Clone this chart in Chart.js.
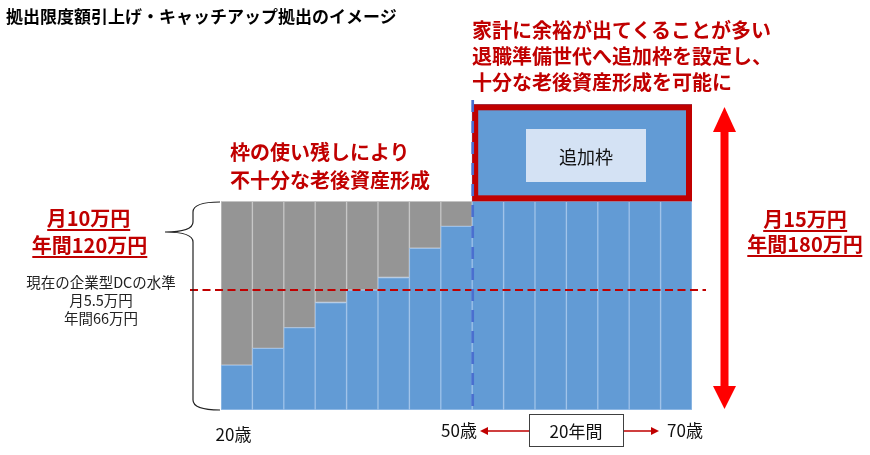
<!DOCTYPE html>
<html>
<head>
<meta charset="utf-8">
<script src="https://cdn.jsdelivr.net/npm/chart.js@4.4.1/dist/chart.umd.min.js"></script>
<style>
body{margin:0;background:#fff;}
#wrap{position:relative;width:870px;height:455px;font-family:"Noto Sans CJK JP","Noto Sans",sans-serif;overflow:hidden;}
canvas{position:absolute;left:0;top:0;}
.t{position:absolute;white-space:nowrap;line-height:1;}
.c{transform:translateX(-50%);}
.red{color:#c00000;font-weight:bold;font-size:20px;}
.ul{border-bottom:2px solid #c00000;padding-bottom:1px;}
.small{font-size:14.5px;color:#222;}
.age{font-size:17px;color:#111;}
#addBox{position:absolute;left:526px;top:129px;width:120px;height:53px;background:#d4e2f4;}
#yearBox{position:absolute;left:529px;top:414px;width:93px;height:31px;border:1px solid #404040;background:#fff;}
</style>
</head>
<body>
<div id="wrap">
  <canvas id="myChart" width="870" height="455"></canvas>
  <div id="addBox"></div>
  <div id="yearBox"></div>
  <div id="texts"></div>
</div>
<script>
// データ（月額・万円）
const categories = ["1","2","3","4","5","6","7","8","9","10","11","12","13","14","15"]
const contribution = [2.15, 2.95, 3.95, 5.15, 5.75, 6.35, 7.75, 8.8, 10, 10, 10, 10, 10, 10, 10]
const unused = [7.85, 7.05, 6.05, 4.85, 4.25, 3.65, 2.25, 1.2, null, null, null, null, null, null, null]
const extra = [null, null, null, null, null, null, null, null, 4.65, 4.65, 4.65, 4.65, 4.65, 4.65, 4.65]
const currentLevel = 5.75
const ageTicks = ["20歳", "50歳", "70歳"]

// テキスト
const texts = [
  {s: "拠出限度額引上げ・キャッチアップ拠出のイメージ", x: 6, y: 16.7, size: 17, cls: "", style: "font-weight:bold;font-size:17px;color:#000;"},
  {s: "家計に余裕が出てくることが多い", x: 472, y: 31.5, size: 20, cls: "red"},
  {s: "退職準備世代へ追加枠を設定し、", x: 472, y: 57, size: 20, cls: "red"},
  {s: "十分な老後資産形成を可能に", x: 472, y: 83.5, size: 20, cls: "red"},
  {s: "枠の使い残しにより", x: 230, y: 153.5, size: 20, cls: "red"},
  {s: "不十分な老後資産形成", x: 230, y: 181, size: 20, cls: "red"},
  {s: "月10万円", x: 88.5, y: 219, size: 20, cls: "red ul c"},
  {s: "年間120万円", x: 89.5, y: 246, size: 20, cls: "red ul c"},
  {s: "月15万円", x: 805, y: 220, size: 20, cls: "red ul c"},
  {s: "年間180万円", x: 805, y: 245.5, size: 20, cls: "red ul c"},
  {s: "現在の企業型DCの水準", x: 101, y: 283.5, size: 14.5, cls: "small c"},
  {s: "月5.5万円", x: 101, y: 301, size: 14.5, cls: "small c"},
  {s: "年間66万円", x: 101, y: 319, size: 14.5, cls: "small c"},
  {s: "追加枠", x: 586, y: 157, size: 18, cls: "c", style: "font-size:18px;color:#111;"},
  {s: ageTicks[0], x: 233.5, y: 434, size: 17, cls: "age c"},
  {s: ageTicks[1], x: 459, y: 430.7, size: 17, cls: "age c"},
  {s: ageTicks[2], x: 685, y: 430.7, size: 17, cls: "age c"},
  {s: "20年間", x: 576, y: 431, size: 17, cls: "age c"}
]
const box = document.getElementById("texts")
texts.forEach((t) => {
  const d = document.createElement("div")
  d.className = "t " + t.cls
  d.textContent = t.s
  d.style.left = t.x + "px"
  d.style.top = (t.y - t.size * 0.556) + "px"
  if (t.style) d.style.cssText += t.style
  box.appendChild(d)
})

// 追加枠の赤枠・点線・矢印など
const decoPlugin = {
  id: "deco",
  afterDatasetsDraw(chart) {
    const ctx = chart.ctx
    const y = chart.scales.y
    const meta = chart.getDatasetMeta(2)
    const first = meta.data[8]
    const last = meta.data[14]
    const left = first.x - first.width / 2
    const right = last.x + last.width / 2
    const top = first.y
    const bottom = first.base
    ctx.save()
    // 追加枠
    ctx.fillStyle = "#629bd5"
    ctx.fillRect(left, top, right - left, bottom - top)
    ctx.strokeStyle = "#c00000"
    ctx.lineWidth = 6
    ctx.strokeRect(left + 3, top + 3, right - left - 6, bottom - top - 6)

    // 現在の水準（赤点線）
    const ly = y.getPixelForValue(currentLevel)
    ctx.strokeStyle = "#c00000"
    ctx.lineWidth = 2
    ctx.setLineDash([8, 4.5])
    ctx.beginPath()
    ctx.moveTo(190, ly)
    ctx.lineTo(706, ly)
    ctx.stroke()

    // 50歳の区切り（青点線）
    ctx.strokeStyle = "#4a6fcf"
    ctx.lineWidth = 2.7
    ctx.setLineDash([12, 9])
    ctx.beginPath()
    ctx.moveTo(left + 0.5, 100)
    ctx.lineTo(left + 0.5, y.getPixelForValue(0))
    ctx.stroke()
    ctx.setLineDash([])

    // 中かっこ
    ctx.strokeStyle = "#222"
    ctx.lineWidth = 1.2
    ctx.beginPath()
    ctx.moveTo(220, 202)
    ctx.quadraticCurveTo(193, 202, 193, 212)
    ctx.lineTo(193, 222)
    ctx.quadraticCurveTo(193, 232, 165, 232)
    ctx.quadraticCurveTo(193, 232, 193, 242)
    ctx.lineTo(193, 400)
    ctx.quadraticCurveTo(193, 410, 220, 410)
    ctx.stroke()

    // 赤い両矢印
    const ax = 724.5
    ctx.fillStyle = "#ff0000"
    ctx.fillRect(ax - 4, 130, 8, 260)
    ctx.beginPath()
    ctx.moveTo(ax, 107)
    ctx.lineTo(ax + 11.5, 132)
    ctx.lineTo(ax - 11.5, 132)
    ctx.closePath()
    ctx.fill()
    ctx.beginPath()
    ctx.moveTo(ax, 409)
    ctx.lineTo(ax + 11.5, 386)
    ctx.lineTo(ax - 11.5, 386)
    ctx.closePath()
    ctx.fill()

    // 20年間の矢印
    ctx.strokeStyle = "#c00000"
    ctx.fillStyle = "#c00000"
    ctx.lineWidth = 1.5
    ctx.beginPath()
    ctx.moveTo(529, 431)
    ctx.lineTo(486, 431)
    ctx.moveTo(623, 431)
    ctx.lineTo(653, 431)
    ctx.stroke()
    ctx.beginPath()
    ctx.moveTo(480, 431)
    ctx.lineTo(488, 427)
    ctx.lineTo(488, 435)
    ctx.closePath()
    ctx.fill()
    ctx.beginPath()
    ctx.moveTo(659, 431)
    ctx.lineTo(651, 427)
    ctx.lineTo(651, 435)
    ctx.closePath()
    ctx.fill()
    ctx.restore()
  }
}

function renderGrafica () {
  const datasets = [
    {label: "拠出額", data: contribution, backgroundColor: "#629bd5", borderColor: "#9cc0e8", borderWidth: 1, borderSkipped: false},
    {label: "使い残し", data: unused, backgroundColor: "#959595", borderColor: "#c4c4c4", borderWidth: 1, borderSkipped: false},
    {label: "追加枠", data: extra, backgroundColor: "#629bd5", borderWidth: 0}
  ]
  const config = {
    type: "bar",
    data: {labels: categories, datasets},
    options: {
      responsive: false,
      animation: false,
      datasets: {bar: {categoryPercentage: 1, barPercentage: 1}},
      layout: {padding: {left: 221, right: 178, top: 97, bottom: 45}},
      scales: {
        x: {stacked: true, display: false},
        y: {stacked: true, display: false, min: 0, max: 15}
      },
      plugins: {legend: {display: false}, tooltip: {enabled: false}}
    },
    plugins: [decoPlugin]
  }
  new Chart(document.getElementById("myChart"), config)
}
renderGrafica()
</script>
</body>
</html>
